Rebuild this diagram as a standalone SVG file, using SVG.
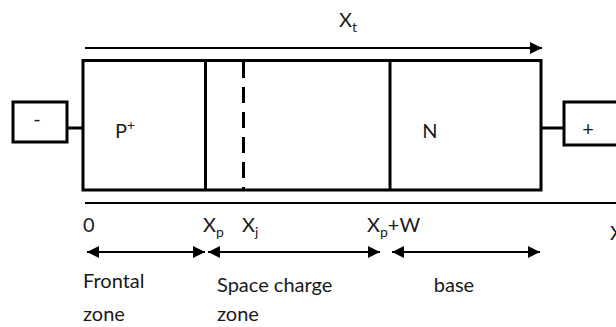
<svg xmlns="http://www.w3.org/2000/svg" width="616" height="327" viewBox="0 0 616 327">
  <style>
    .thick { fill: none; stroke: #000; stroke-width: 3; }
    .thin { fill: none; stroke: #000; stroke-width: 2; }
    .t { font-family: Lato, "Liberation Sans", sans-serif; font-size: 20px; fill: #1a1a1a; }
    .sub { font-size: 14px; }
  </style>
  <defs>
    <marker id="ah" viewBox="0 0 12 12" refX="12" refY="6" markerWidth="12" markerHeight="12" markerUnits="userSpaceOnUse" orient="auto-start-reverse">
      <path d="M0,0 L12,6 L0,12 z" fill="#000"/>
    </marker>
  </defs>
  <rect width="616" height="327" fill="#fff"/>

  <g id="device">
    <rect x="83" y="60.5" width="458" height="129.5" class="thick"/>
    <line x1="205.5" y1="60.5" x2="205.5" y2="190" class="thick"/>
    <line x1="243.5" y1="62" x2="243.5" y2="190" class="thick" stroke-dasharray="16 9"/>
    <line x1="390" y1="60.5" x2="390" y2="190" class="thick"/>
    <text class="t" x="115" y="138">P<tspan class="sub" dy="-8">+</tspan></text>
    <text class="t" x="430" y="138" text-anchor="middle">N</text>
  </g>

  <g id="minus-terminal">
    <rect x="13" y="102" width="54" height="40" class="thick"/>
    <text class="t" x="37" y="126" text-anchor="middle">-</text>
  </g>

  <g id="plus-terminal">
    <rect x="564" y="102" width="60" height="43" class="thick"/>
    <text class="t" x="588" y="136" text-anchor="middle">+</text>
  </g>

  <g id="connectors">
    <line x1="67" y1="128" x2="83" y2="128" class="thick"/>
    <line x1="541" y1="128" x2="564" y2="128" class="thick"/>
    <line x1="85" y1="48" x2="542" y2="48" class="thin" marker-end="url(#ah)"/>
    <line x1="85" y1="203" x2="628" y2="203" class="thin" marker-end="url(#ah)"/>
    <line x1="87" y1="252" x2="205" y2="252" class="thin" marker-start="url(#ah)" marker-end="url(#ah)"/>
    <line x1="208" y1="252" x2="380" y2="252" class="thin" marker-start="url(#ah)" marker-end="url(#ah)"/>
    <line x1="392" y1="252" x2="540" y2="252" class="thin" marker-start="url(#ah)" marker-end="url(#ah)"/>
  </g>

  <g id="labels">
    <text class="t" x="339" y="27">X<tspan class="sub" dy="5">t</tspan></text>
    <text class="t" x="83" y="232">0</text>
    <text class="t" x="203" y="232">X<tspan class="sub" dy="5">p</tspan></text>
    <text class="t" x="242" y="232">X<tspan class="sub" dy="5">j</tspan></text>
    <text class="t" x="367" y="232">X<tspan class="sub" dy="5">p</tspan><tspan dy="-5">+W</tspan></text>
    <text class="t" x="610" y="240">X</text>
    <text class="t" x="83" y="288">Frontal</text>
    <text class="t" x="83" y="321">zone</text>
    <text class="t" x="217" y="292">Space charge</text>
    <text class="t" x="217" y="321">zone</text>
    <text class="t" x="454" y="292" text-anchor="middle">base</text>
  </g>
</svg>
